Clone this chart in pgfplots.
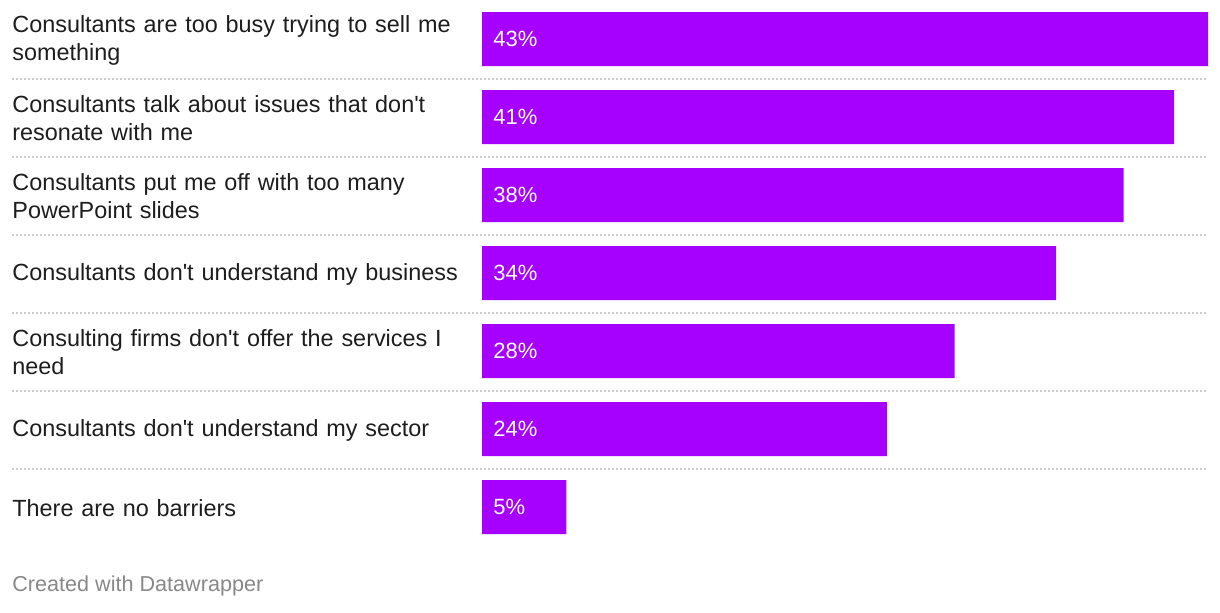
\documentclass[border=0pt]{standalone}
\usepackage{pgfplots}
\pgfplotsset{compat=1.18}
\usepackage{fontspec}
\setmainfont{Liberation Sans}
\definecolor{barpurple}{HTML}{A600FF}
\definecolor{txt}{HTML}{1D1D1D}
\definecolor{sep}{HTML}{CCCCCC}
\definecolor{foot}{HTML}{888888}
\begin{document}
\begin{tikzpicture}
\useasboundingbox (0,0) rectangle (610pt,-306pt);
\begin{axis}[
  at={(241pt,0pt)}, anchor=north west,
  scale only axis, width=363pt, height=273pt,
  xmin=0, xmax=43, ymin=-0.5, ymax=6.5, y dir=reverse,
  axis line style={draw=none},
  major tick length=0pt,
  xtick=\empty,
  ytick={0,1,2,3,4,5,6},
  yticklabels={
    {Consultants are too busy trying to sell me\\something},
    {Consultants talk about issues that don\textquotesingle t\\resonate with me},
    {Consultants put me off with too many\\PowerPoint slides},
    {Consultants don\textquotesingle t understand my business},
    {Consulting firms don\textquotesingle t offer the services I\\need},
    {Consultants don\textquotesingle t understand my sector},
    {There are no barriers}},
  yticklabel style={anchor=west, text width=236pt, align=left, inner sep=0pt,
    xshift=-235pt, yshift=-0.8pt, font=\fontsize{11.7}{14}\selectfont, text=txt},
  clip=false,
]
\pgfplotsinvokeforeach{0.5,1.5,2.5,3.5,4.5,5.5}{
  \draw[sep, line width=1pt, dash pattern=on 1pt off 1pt] ([xshift=-235pt,yshift=-0.5pt]axis cs:0,#1) -- ([yshift=-0.5pt]axis cs:43,#1);
}
\addplot[xbar, bar width=27pt, fill=barpurple, draw=none] coordinates {
  (43,0) (41,1) (38,2) (34,3) (28,4) (24,5) (5,6)};
\addplot[only marks, mark=none, point meta=explicit symbolic,
  nodes near coords={\pgfplotspointmeta\%},
  every node near coord/.append style={anchor=west, xshift=5.5pt, inner sep=0pt,
    text=white, font=\fontsize{11}{12}\selectfont}] coordinates {
  (0,0) [43] (0,1) [41] (0,2) [38] (0,3) [34] (0,4) [28] (0,5) [24] (0,6) [5]};
\end{axis}
\node[anchor=west, inner sep=0pt, text=foot, font=\fontsize{10.8}{12}\selectfont] at (6pt,-293pt) {Created with Datawrapper};
\end{tikzpicture}
\end{document}
